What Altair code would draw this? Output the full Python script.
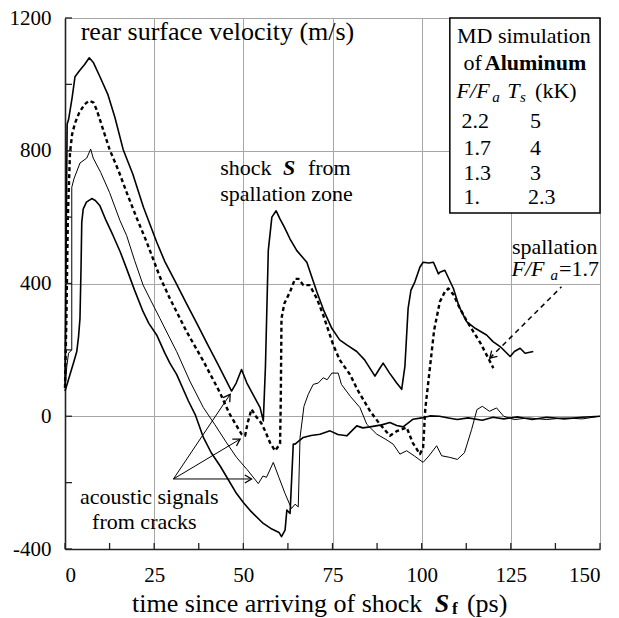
import altair as alt
import pandas as pd

# ---- data ----
x_22 = [0, 0.3, 0.6, 1.0, 2.0, 2.8, 4.0, 5.5, 6.8, 8.0, 9.8, 12, 14, 16.3, 19, 22, 25.7, 28, 31, 34, 37, 40, 43, 46.7, 48, 49.5, 51, 53, 54.7, 55.6, 56.2, 57, 58, 59.2, 60.3, 61.5, 63.1, 65, 67.8, 70.6, 72.5, 74.8, 77, 79, 81.8, 84, 86.9, 88, 89.2, 91, 93, 94.4, 95.3, 96.2, 97, 98.1, 99.5, 100.4, 102, 103.3, 104.7, 105.1, 106.5, 108.9, 110.5, 112.6, 115, 118.2, 120, 122, 124.8, 126, 127.6, 129, 131.3]
y_22 = [85, 500, 880, 894, 960, 1023, 1040, 1060, 1080, 1065, 1023, 970, 900, 804, 730, 630, 525, 466, 404, 341, 279, 216, 154, 76, 100, 141, 100, 60, 26, -14, 150, 500, 600, 619, 594, 570, 534, 499, 464, 375, 320, 265, 230, 215, 195, 170, 121, 140, 160, 130, 100, 81, 150, 325, 380, 405, 449, 464, 462, 464, 429, 434, 440, 385, 330, 285, 265, 245, 225, 210, 180, 195, 205, 190, 195]

x_17 = [0, 0.4, 0.8, 1.4, 2.0, 2.8, 4.0, 5.5, 6.8, 8.0, 8.9, 10.5, 12.5, 15, 17.3, 20, 22.9, 26.6, 29.4, 34.1, 38.8, 43.5, 46, 49.5, 50.5, 51.2, 52.3, 53.5, 55, 56.1, 57.5, 58.9, 60.3, 60.5, 60.7, 61.5, 63.1, 64.5, 65.5, 66.8, 68.6, 70.6, 72.4, 75.2, 77, 79.9, 82, 85.5, 88, 91.1, 93, 95.8, 97.5, 99.5, 100.4, 101, 102.3, 103.5, 105.1, 106.5, 107.5, 109, 110.7, 112.5, 114.5, 116.5, 118.2, 120.1]
y_17 = [85, 300, 600, 794, 850, 883, 915, 940, 951, 945, 923, 870, 804, 740, 674, 600, 525, 420, 355, 255, 166, 70, 10, -54, -59, -20, 21, 0, -20, -44, -80, -104, -83, 50, 295, 340, 375, 414, 414, 395, 395, 355, 305, 215, 170, 126, 80, 16, -20, -59, -45, -34, -80, -114, -95, 20, 145, 260, 345, 375, 385, 365, 325, 290, 255, 220, 185, 145]

x_13 = [0, 0.5, 1.0, 1.9, 1.9, 2.5, 4.2, 6.1, 7.2, 7.9, 10, 12.5, 15.4, 17.3, 19.5, 21.9, 24, 26.6, 29.4, 31.3, 35, 38.8, 42, 45, 48.1, 51, 54.2, 55.5, 56.5, 58.4, 60, 61.7, 63.5, 64.5, 65.4, 65.9, 67, 68.2, 69.6, 71, 72.4, 73.5, 74.8, 76.6, 77.5, 80, 82.7, 84.6, 87.4, 90, 92, 93.9, 95.8, 98, 100.4, 102, 104.2, 105.6, 107.9, 110, 112, 114, 115.5, 117, 119, 121, 123, 126, 130, 135, 140, 145, 150]
y_13 = [85, 150, 190, 200, 690, 715, 763, 778, 805, 778, 735, 674, 590, 544, 470, 395, 350, 295, 235, 195, 106, 26, -25, -75, -124, -160, -203, -180, -184, -139, -185, -233, -278, -265, -273, -64, 30, 66, 96, 100, 116, 110, 130, 130, 96, 60, 26, -24, -54, -70, -84, -114, -104, -120, -139, -120, -89, -119, -124, -130, -110, -40, 20, 30, 15, 25, 0, -10, -5, -10, -5, -8, 0]

x_10 = [0, 0.7, 1.4, 2.5, 3.3, 3.8, 4.2, 4.5, 4.7, 5.1, 6, 7.5, 8.5, 9.8, 11.5, 13.5, 15.5, 17.3, 19.5, 21.9, 23.5, 25.7, 28, 29.4, 31.3, 34.6, 36.5, 38.8, 41, 43.5, 46, 48.1, 50, 52, 55.6, 58, 60, 60.7, 61.7, 62.2, 63.1, 64, 64.5, 66.8, 69, 71.5, 74.3, 76.5, 79, 81.8, 83.5, 85.5, 88.8, 91.1, 93, 94.8, 97.6, 100, 102.3, 105, 107.9, 110, 113, 117, 120, 123, 127, 131, 135, 140, 145, 150]
y_10 = [76, 100, 126, 165, 195, 240, 295, 450, 584, 624, 645, 656, 650, 634, 590, 544, 495, 444, 380, 315, 280, 245, 190, 160, 126, 46, 5, -64, -110, -150, -195, -233, -260, -285, -323, -340, -350, -363, -343, -283, -293, -84, -84, -64, -58, -54, -44, -55, -59, -29, -35, -32, -26, -19, -28, -32, -9, -5, 1, 0, -6, -10, -5, -12, -3, -8, -2, -10, -3, -8, -3, 0]

x_major = [0, 25, 50, 75, 100, 125, 150]
x_minor = [12.5, 37.5, 62.5, 87.5, 112.5, 137.5]
y_major = [-400, 0, 400, 800, 1200]
y_minor = [-200, 200, 600, 1000]

FONT = "Liberation Serif"
W, H = 535, 531

xs = alt.Scale(domain=[0, 150], nice=False, zero=False)
ys = alt.Scale(domain=[-400, 1200], nice=False, zero=False)
xaxis = alt.Axis(values=x_major, grid=True, gridColor="#a6a6a6", gridWidth=1, ticks=False,
                 domainColor="#222", domainWidth=1.6, labelFont=FONT, labelFontSize=21,
                 labelColor="black", labelPadding=15, title=None, labelExpr="'' + datum.value")
yaxis = alt.Axis(values=y_major, grid=True, gridColor="#a6a6a6", gridWidth=1, ticks=False,
                 domainColor="#222", domainWidth=1.6, labelFont=FONT, labelFontSize=21,
                 labelColor="black", labelPadding=14, title=None, labelExpr="'' + datum.value")

def X(f="t"):
    return alt.X(f"{f}:Q", scale=xs, axis=xaxis)

def Y(f="v"):
    return alt.Y(f"{f}:Q", scale=ys, axis=yaxis)

def series(xv, yv, width, dash=None):
    df = pd.DataFrame({"t": xv, "v": yv, "i": list(range(len(xv)))})
    kw = dict(color="black", strokeWidth=width, strokeJoin="round")
    if dash:
        kw["strokeDash"] = dash
    return alt.Chart(df).mark_line(**kw).encode(x=X(), y=Y(), order="i:Q")

layers = []
layers.append(series(x_22, y_22, 1.6))
layers.append(series(x_13, y_13, 1.0))
layers.append(series(x_10, y_10, 1.6))
layers.append(series(x_17, y_17, 2.4, [4, 3]))

# inward ticks
xt = pd.DataFrame({"t": x_major + x_minor})
yt = pd.DataFrame({"v": y_major + y_minor})
layers.append(alt.Chart(xt).mark_rule(color="#222", strokeWidth=1.3).encode(
    x=X(), y=alt.value(H), y2=alt.value(H - 6)))
layers.append(alt.Chart(yt).mark_rule(color="#222", strokeWidth=1.3).encode(
    y=Y(), x=alt.value(0), x2=alt.value(7)))

# legend box
box = pd.DataFrame({"t": [107.9], "t2": [150], "v": [612.6], "v2": [1200]})
layers.append(alt.Chart(box).mark_rect(fill="white", stroke="black", strokeWidth=1.5).encode(
    x=X(), x2="t2:Q", y=Y(), y2="v2:Q"))

# arrows
arr = pd.DataFrame({
    "t": [30.4, 46.3, 30.4, 49.1, 30.4, 52.3],
    "v": [-189, 66, -189, -69, -189, -189],
    "g": ["a", "a", "b", "b", "c", "c"]})
layers.append(alt.Chart(arr).mark_line(color="black", strokeWidth=1).encode(
    x=X(), y=Y(), detail="g:N"))
darr = pd.DataFrame({"t": [139.2, 119.1], "v": [390, 175]})
layers.append(alt.Chart(darr).mark_line(color="black", strokeWidth=1.5, strokeDash=[5, 4]).encode(
    x=X(), y=Y()))
heads = pd.DataFrame({"t": [46.3, 49.1, 52.3, 119.1], "v": [66, -69, -189, 175],
                      "ang": [303.6, 329, 0, 135]})
layers.append(alt.Chart(heads).mark_point(shape="M -1 -0.6 L 0 0 L -1 0.6", size=180, color="black",
                                          filled=False, strokeWidth=1.3, opacity=1).encode(
    x=X(), y=Y(), angle=alt.Angle("ang:Q", scale=None)))

def texts(rows, size=22, weight="normal", style="normal", align="left"):
    df = pd.DataFrame(rows, columns=["t", "v", "txt"])
    return alt.Chart(df).mark_text(font=FONT, fontSize=size, fontWeight=weight, fontStyle=style,
                                   align=align, baseline="middle", color="black").encode(
        x=X(), y=Y(), text="txt:N")

layers.append(texts([[4.4, 1158, "rear surface velocity (m/s)"]], size=26))
layers.append(texts([
    [43.5, 749, "shock"], [68.1, 749, "from"], [43.5, 669, "spallation zone"],
    [125.3, 510, "spallation"], [138.5, 443, "=1.7"],
    [109.9, 1145, "MD simulation"], [111.7, 1064, "of"], [131.8, 980, "(kK)"],
    [111.2, 890, "2.2"], [111.7, 809, "1.7"], [111.7, 734, "1.3"], [111.7, 660, "1."],
    [130.4, 890, "5"], [130.4, 809, "4"], [130.4, 734, "3"], [129.8, 660, "2.3"],
    [4.2, -244, "acoustic signals"], [7.6, -319, "from cracks"],
]))
layers.append(texts([[117.7, 1064, "Aluminum"]], weight="bold"))
layers.append(texts([[109.8, 980, "F/F"], [124.0, 980, "T"], [125.2, 443, "F/F"]], style="italic"))
layers.append(texts([[119.8, 962, "a"], [127.6, 962, "s"], [136.1, 425, "a"]], size=15, style="italic"))
layers.append(texts([[61.1, 749, "S"]], weight="bold", style="italic"))
# x-axis title
layers.append(texts([[18.8, -566, "time since arriving of shock"], [112.7, -566, "(ps)"]], size=26))
layers.append(texts([[103.7, -566, "S"]], size=26, weight="bold", style="italic"))
layers.append(texts([[108.5, -580, "f"]], size=17, weight="bold"))

chart = alt.layer(*layers).properties(
    width=W, height=H,
    autosize=alt.AutoSizeParams(type="none"),
    padding={"left": 57, "top": 10, "right": 10, "bottom": 68},
).configure_view(stroke=None).configure(background="white")

chart.save("out.html", embed_options={"renderer": "svg", "actions": False})
